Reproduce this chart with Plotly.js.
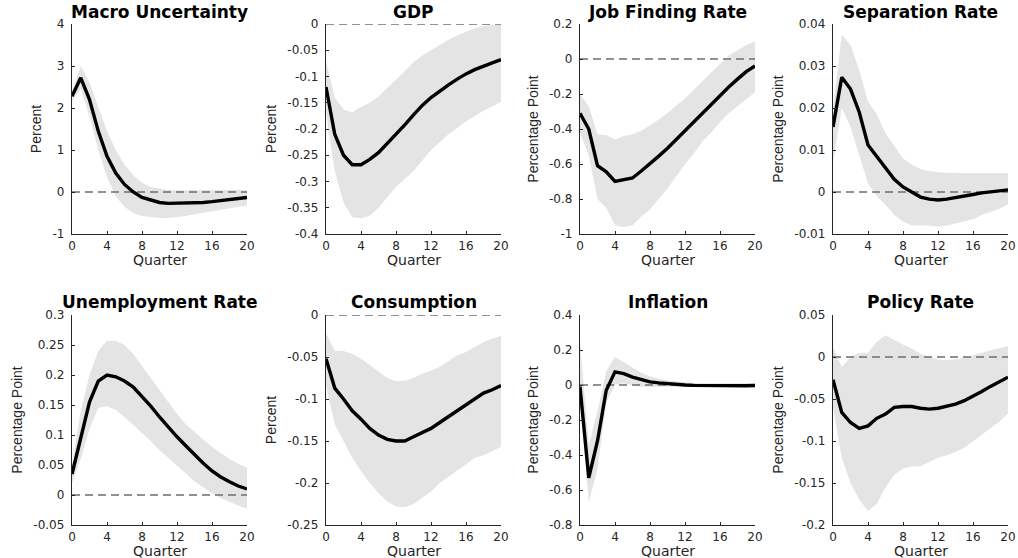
<!DOCTYPE html>
<html><head><meta charset="utf-8">
<script src="https://cdn.plot.ly/plotly-3.0.1.min.js"></script>
<style>html,body{margin:0;padding:0;background:#fff;overflow:hidden}</style>
</head><body><div id="chart" style="width:1018px;height:558px"></div>
<script>
const quarters = [0,1,2,3,4,5,6,7,8,9,10,11,12,13,14,15,16,17,18,19,20];

const macroMean  = [2.28,2.72,2.2,1.45,0.85,0.45,0.18,0.0,-0.13,-0.2,-0.25,-0.27,-0.27,-0.27,-0.26,-0.25,-0.23,-0.21,-0.19,-0.16,-0.13];
const macroUpper = [2.38,3.0,2.6,2.0,1.45,1.0,0.65,0.4,0.22,0.12,0.08,0.05,0.04,0.04,0.04,0.04,0.04,0.05,0.05,0.05,0.05];
const macroLower = [2.18,2.45,1.8,1.0,0.35,-0.1,-0.35,-0.5,-0.57,-0.6,-0.62,-0.62,-0.6,-0.57,-0.53,-0.5,-0.46,-0.42,-0.38,-0.35,-0.33];

const gdpMean  = [-0.12,-0.21,-0.25,-0.268,-0.268,-0.258,-0.245,-0.228,-0.21,-0.192,-0.173,-0.155,-0.14,-0.127,-0.116,-0.105,-0.095,-0.087,-0.08,-0.074,-0.068];
const gdpUpper = [-0.07,-0.14,-0.163,-0.168,-0.158,-0.15,-0.138,-0.122,-0.107,-0.09,-0.073,-0.06,-0.05,-0.04,-0.03,-0.022,-0.015,-0.008,-0.004,-0.002,-0.002];
const gdpLower = [-0.17,-0.28,-0.34,-0.368,-0.37,-0.365,-0.35,-0.33,-0.31,-0.295,-0.28,-0.26,-0.24,-0.225,-0.21,-0.198,-0.185,-0.175,-0.165,-0.157,-0.148];

const jobMean  = [-0.31,-0.4,-0.61,-0.645,-0.7,-0.69,-0.68,-0.64,-0.6,-0.555,-0.51,-0.46,-0.405,-0.355,-0.305,-0.255,-0.205,-0.16,-0.115,-0.072,-0.04];
const jobUpper = [-0.2,-0.27,-0.43,-0.435,-0.46,-0.44,-0.43,-0.41,-0.38,-0.345,-0.31,-0.265,-0.225,-0.175,-0.125,-0.075,-0.025,0.02,0.05,0.08,0.1];
const jobLower = [-0.42,-0.55,-0.8,-0.85,-0.95,-0.96,-0.95,-0.9,-0.86,-0.8,-0.74,-0.67,-0.6,-0.54,-0.47,-0.42,-0.36,-0.31,-0.27,-0.23,-0.19];

const sepMean  = [0.0155,0.0273,0.0245,0.019,0.0112,0.0085,0.0055,0.003,0.0012,0.0,-0.0012,-0.0017,-0.0019,-0.0017,-0.0014,-0.001,-0.0006,-0.0002,0.0,0.0002,0.0005];
const sepUpper = [0.02,0.0375,0.035,0.029,0.0215,0.0185,0.014,0.011,0.008,0.0065,0.0055,0.005,0.0047,0.0046,0.0045,0.0045,0.0045,0.0045,0.0045,0.0045,0.0045];
const sepLower = [0.007,0.02,0.0155,0.009,0.002,-0.001,-0.003,-0.0055,-0.007,-0.008,-0.008,-0.008,-0.0082,-0.008,-0.0075,-0.007,-0.0065,-0.0055,-0.0048,-0.004,-0.003];

const unempMean  = [0.035,0.095,0.155,0.19,0.2,0.197,0.19,0.18,0.165,0.148,0.13,0.113,0.097,0.082,0.067,0.053,0.04,0.03,0.022,0.015,0.01];
const unempUpper = [0.05,0.14,0.2,0.24,0.257,0.257,0.25,0.235,0.215,0.195,0.175,0.155,0.135,0.118,0.105,0.092,0.08,0.07,0.06,0.052,0.045];
const unempLower = [0.02,0.06,0.11,0.145,0.148,0.142,0.13,0.117,0.103,0.09,0.075,0.062,0.048,0.035,0.023,0.013,0.003,-0.005,-0.012,-0.018,-0.023];

const consMean  = [-0.052,-0.087,-0.1,-0.114,-0.124,-0.135,-0.143,-0.148,-0.15,-0.15,-0.145,-0.14,-0.135,-0.128,-0.121,-0.114,-0.107,-0.1,-0.093,-0.089,-0.084];
const consUpper = [-0.022,-0.043,-0.043,-0.046,-0.052,-0.06,-0.068,-0.075,-0.079,-0.078,-0.075,-0.07,-0.066,-0.062,-0.055,-0.048,-0.044,-0.038,-0.032,-0.028,-0.025];
const consLower = [-0.085,-0.13,-0.15,-0.17,-0.186,-0.2,-0.212,-0.222,-0.228,-0.229,-0.225,-0.218,-0.21,-0.2,-0.192,-0.185,-0.178,-0.17,-0.167,-0.162,-0.157];

const inflMean  = [-0.01,-0.53,-0.32,-0.03,0.075,0.065,0.045,0.03,0.018,0.012,0.007,0.003,0.0,-0.002,-0.003,-0.004,-0.004,-0.004,-0.004,-0.004,-0.003];
const inflUpper = [0.25,-0.34,-0.15,0.08,0.16,0.13,0.1,0.07,0.05,0.035,0.025,0.02,0.015,0.012,0.01,0.01,0.01,0.01,0.01,0.01,0.01];
const inflLower = [-0.05,-0.67,-0.48,-0.1,0.0,0.01,0.0,-0.01,-0.01,-0.01,-0.01,-0.01,-0.012,-0.012,-0.012,-0.012,-0.012,-0.012,-0.012,-0.012,-0.012];

const policyMean  = [-0.027,-0.066,-0.078,-0.085,-0.082,-0.073,-0.068,-0.06,-0.059,-0.059,-0.061,-0.062,-0.061,-0.059,-0.056,-0.052,-0.047,-0.041,-0.035,-0.029,-0.024];
const policyUpper = [0.012,-0.012,0.0,0.005,0.005,0.018,0.026,0.02,0.015,0.01,0.004,0.0,-0.003,-0.004,-0.003,-0.001,0.002,0.005,0.008,0.01,0.013];
const policyLower = [-0.06,-0.12,-0.15,-0.17,-0.183,-0.175,-0.155,-0.14,-0.133,-0.13,-0.13,-0.125,-0.12,-0.117,-0.113,-0.108,-0.1,-0.092,-0.085,-0.077,-0.067];

const xTickLabels = ['0','4','8','12','16','20'];
const macroTicks  = ['-1','0','1','2','3','4'];
const gdpTicks    = ['-0.4','-0.35','-0.3','-0.25','-0.2','-0.15','-0.1','-0.05','0'];
const jobTicks    = ['-1','-0.8','-0.6','-0.4','-0.2','0','0.2'];
const sepTicks    = ['-0.01','0','0.01','0.02','0.03','0.04'];
const unempTicks  = ['-0.05','0','0.05','0.1','0.15','0.2','0.25','0.3'];
const consTicks   = ['-0.25','-0.2','-0.15','-0.1','-0.05','0'];
const inflTicks   = ['-0.8','-0.6','-0.4','-0.2','0','0.2','0.4'];
const policyTicks = ['-0.2','-0.15','-0.1','-0.05','0','0.05'];

const titles = ['Macro Uncertainty','GDP','Job Finding Rate','Separation Rate','Unemployment Rate','Consumption','Inflation','Policy Rate'];
const yTitles = ['Percent','Percent','Percentage Point','Percentage Point','Percentage Point','Percent','Percentage Point','Percentage Point'];
const xTitle = 'Quarter';

const means  = [macroMean,gdpMean,jobMean,sepMean,unempMean,consMean,inflMean,policyMean];
const uppers = [macroUpper,gdpUpper,jobUpper,sepUpper,unempUpper,consUpper,inflUpper,policyUpper];
const lowers = [macroLower,gdpLower,jobLower,sepLower,unempLower,consLower,inflLower,policyLower];
const yTicks = [macroTicks,gdpTicks,jobTicks,sepTicks,unempTicks,consTicks,inflTicks,policyTicks];

// layout geometry in pixels
const W = 1018, H = 558;
const colPx = [[72,247],[326,501],[580,755],[833,1008]];
const rowPx = [[24,234],[315,525]];
const titleYPx = [12,302];

const axisColor = '#262626';
const tickFont = {family:'DejaVu Sans, Arial, sans-serif', size:12, color:axisColor};

const data = [];
const layout = {
  width: W, height: H,
  margin: {l:0, r:0, t:0, b:0},
  paper_bgcolor: '#fff', plot_bgcolor: '#fff',
  showlegend: false,
  annotations: []
};

const xVals = xTickLabels.map(Number);

for (let i = 0; i < 8; i++) {
  const r = Math.floor(i / 4), c = i % 4;
  const n = i === 0 ? '' : String(i + 1);
  const xa = 'x' + n, ya = 'y' + n;
  const tv = yTicks[i].map(Number);
  const zero = quarters.map(() => 0);

  data.push({x: quarters, y: uppers[i], xaxis: xa, yaxis: ya, type: 'scatter', mode: 'lines',
    line: {width: 0, color: 'rgba(0,0,0,0)'}, hoverinfo: 'skip'});
  data.push({x: quarters, y: lowers[i], xaxis: xa, yaxis: ya, type: 'scatter', mode: 'lines',
    line: {width: 0, color: 'rgba(0,0,0,0)'}, fill: 'tonexty', fillcolor: '#e4e4e4', hoverinfo: 'skip'});
  data.push({x: quarters, y: zero, xaxis: xa, yaxis: ya, type: 'scatter', mode: 'lines',
    line: {width: 1.3, color: '#6e6e6e', dash: '8px,5px'}, hoverinfo: 'skip'});
  data.push({x: quarters, y: means[i], xaxis: xa, yaxis: ya, type: 'scatter', mode: 'lines',
    line: {width: 3.4, color: '#000'}, hoverinfo: 'skip'});

  layout['xaxis' + n] = {
    domain: [colPx[c][0] / W, colPx[c][1] / W],
    anchor: ya, range: [quarters[0], quarters[quarters.length - 1]],
    tickvals: xVals, ticktext: xTickLabels,
    ticks: 'inside', ticklen: 3, tickwidth: 1, tickcolor: axisColor,
    showline: true, linecolor: axisColor, linewidth: 1.2,
    showgrid: false, zeroline: false, tickfont: tickFont
  };
  layout['yaxis' + n] = {
    domain: [1 - rowPx[r][1] / H, 1 - rowPx[r][0] / H],
    anchor: xa, range: [tv[0], tv[tv.length - 1]],
    tickvals: tv, ticktext: yTicks[i],
    ticks: 'inside', ticklen: 3, tickwidth: 1, tickcolor: axisColor,
    showline: true, linecolor: axisColor, linewidth: 1.2,
    showgrid: false, zeroline: false, tickfont: tickFont,
    ticklabelstandoff: 4,
    title: {text: yTitles[i], standoff: 7, font: {family:'Liberation Sans Narrow, Arial Narrow, Liberation Sans, Arial, sans-serif', size: 14, color: axisColor}}
  };
  layout.annotations.push({
    text: '<b>' + titles[i] + '</b>', xref: 'paper', yref: 'paper',
    x: (colPx[c][0] + colPx[c][1]) / 2 / W, y: 1 - titleYPx[r] / H,
    xanchor: 'center', yanchor: 'middle', showarrow: false, borderpad: 0,
    font: {family: 'DejaVu Sans, Arial, sans-serif', size: 17, color: '#000'}
  });
  const xTitleAnn = {
    text: xTitle, xref: 'paper', yref: 'paper',
    x: (colPx[c][0] + colPx[c][1]) / 2 / W,
    xanchor: 'center', showarrow: false, borderpad: 0,
    font: {family: 'DejaVu Sans, Arial, sans-serif', size: 14, color: axisColor}
  };
  if (r === 0) { xTitleAnn.y = 1 - 260 / H; xTitleAnn.yanchor = 'middle'; }
  else { xTitleAnn.y = 0; xTitleAnn.yanchor = 'bottom'; xTitleAnn.yshift = -2; }
  layout.annotations.push(xTitleAnn);
}

Plotly.newPlot('chart', data, layout, {staticPlot: true, displayModeBar: false});
</script>
</body></html>
